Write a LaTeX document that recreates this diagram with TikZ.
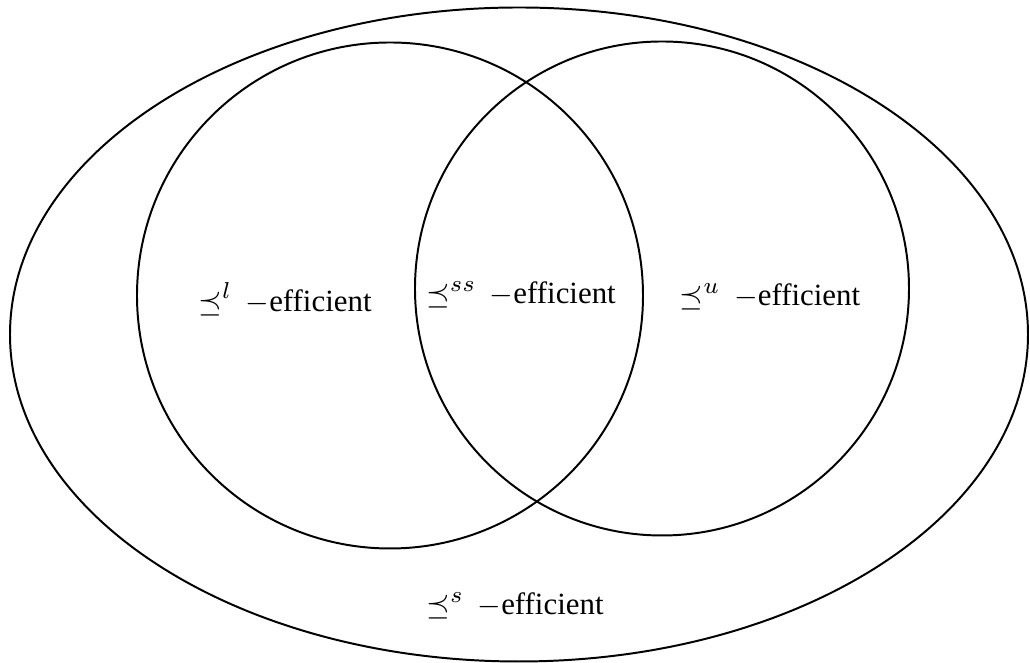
\documentclass[tikz,border=0pt]{standalone}
\usepackage{amsmath}
\usepackage{amssymb}
\usepackage{fontspec}
\setmainfont{Liberation Serif}
\usepackage{tikz}
\usetikzlibrary{positioning}

\begin{document}
\begin{tikzpicture}[x=0.0107cm, y=0.0107cm,
  set/.style    = {draw, line width=0.6pt},
  lbl/.style    = {font=\fontsize{9.4}{11}\selectfont, inner sep=1pt}
]
\useasboundingbox (0,0) rectangle (1030,663);

% Outer set
\draw[set] (519,328.5) ellipse [x radius=509, y radius=327];

% Two inner sets
\draw[set] (390,367.5) circle [radius=253];
\draw[set] (662,374.5) circle [radius=247];

% Labels
\node[lbl] (lower) at (285,364) {$\preceq^{l}\,{-}$efficient};
\node[lbl] (strong) at (521,368) {$\preceq^{ss}\,{-}$efficient};
\node[lbl] (upper) at (770,366) {$\preceq^{u}\,{-}$efficient};
\node[lbl] (set) at (515,57) {$\preceq^{s}\,{-}$efficient};
\end{tikzpicture}
\end{document}
